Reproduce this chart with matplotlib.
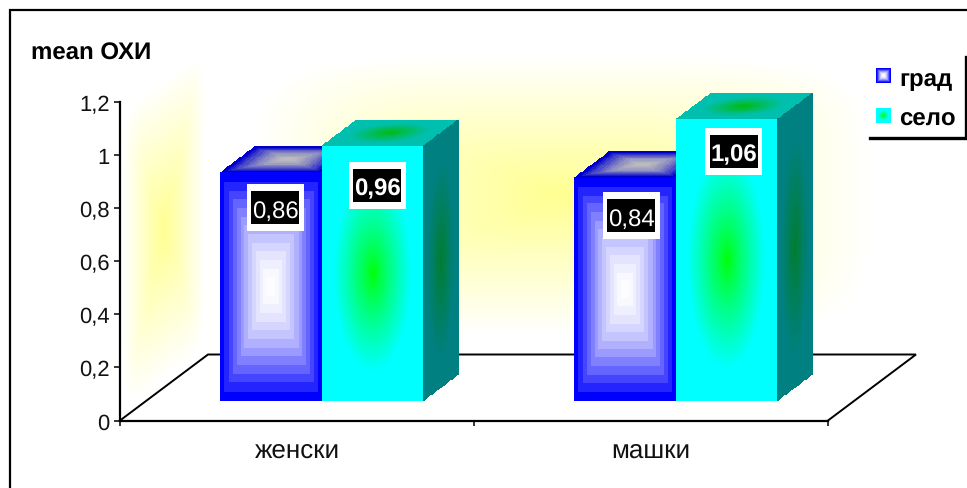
import numpy as np
import matplotlib
matplotlib.use("Agg")
import matplotlib.pyplot as plt
from matplotlib.patches import Rectangle

plt.rcParams['font.family'] = ['Liberation Sans', 'DejaVu Sans']
plt.rcParams['text.hinting'] = 'no_hinting'
plt.rcParams['text.hinting_factor'] = 1

categories = ['женски', 'машки']
series_names = ['град', 'село']
values = {
    'град': [0.86, 0.84],
    'село': [0.96, 1.06],
}
value_labels = {
    'град': ['0,86', '0,84'],
    'село': ['0,96', '1,06'],
}
y_ticks = [0, 0.2, 0.4, 0.6, 0.8, 1, 1.2]
y_tick_labels = ['0', '0,2', '0,4', '0,6', '0,8', '1', '1,2']

W, H = 967, 489
X0, X1, Y0, Y1 = 120, 828, 421.5, 103

# face colours, edge -> centre
BLUE_FRONT = ((0, 0, 255), (255, 255, 255))
BLUE_TOP = ((0, 0, 205), (190, 190, 190))
GREEN_FRONT = ((0, 255, 255), (0, 255, 0))
GREEN_TOP = ((0, 191, 175), (0, 185, 0))
GREEN_SIDE = ((0, 128, 128), (0, 125, 40))
WALL = ((255, 255, 255), (255, 255, 145))


def shade(nx, ny, colors, p=None, steps=None, reach=1.0, gamma=1.0):
    # gradient running from the edge of a face to its centre
    u = np.linspace(-1, 1, nx)
    v = np.linspace(-1, 1, ny)
    uu, vv = np.meshgrid(u, v)
    if p is None:
        r = np.maximum(np.abs(uu), np.abs(vv))
    else:
        r = (np.abs(uu) ** p + np.abs(vv) ** p) ** (1 / p)
    t = np.clip(r / reach, 0, 1)
    if steps:
        t = np.ceil(t * steps) / steps
    t = t ** gamma
    edge = np.array(colors[0]) / 255
    centre = np.array(colors[1]) / 255
    return centre + (edge - centre) * t[..., None]


def face(ax, p0, pu, pv, rgb, zorder):
    # parallelogram from corner p0 along vectors pu and pv
    ny, nx = rgb.shape[:2]
    a, b = np.meshgrid(np.linspace(0, 1, nx + 1), np.linspace(0, 1, ny + 1))
    xs = p0[0] + a * pu[0] + b * pv[0]
    ys = p0[1] + a * pu[1] + b * pv[1]
    ax.pcolormesh(xs, ys, rgb, shading='flat', zorder=zorder, clip_on=False)


fig = plt.figure(figsize=(W / 100, H / 100), dpi=100)
fig.patch.set_facecolor('white')
ax = fig.add_axes([X0 / W, 1 - Y0 / H, (X1 - X0) / W, (Y0 - Y1) / H])
ax.patch.set_visible(False)

ux = 2 / (X1 - X0)
uy = 1.2 / (Y0 - Y1)
# one unit of depth on screen
depth = (88 * ux, 66 * uy)
top_y = y_ticks[-1]
n_cat = len(categories)

# walls
face(ax, (0, 0), depth, (0, top_y), shade(60, 160, WALL, p=8, reach=0.95), 0)
face(ax, depth, (n_cat, 0), (0, top_y), shade(240, 140, WALL, p=5, reach=0.88), 0)

# floor outline
ax.plot([0, depth[0], n_cat + depth[0], n_cat], [0, depth[1], depth[1], 0],
        color='black', lw=1.4, clip_on=False, zorder=1, solid_joinstyle='miter')

bar_w = 101.5 * ux
d_front, d_back = 0.3, 0.7
styles = {
    'град': dict(front=BLUE_FRONT, top=BLUE_TOP, side=BLUE_TOP, p=None, steps=13, reach=1.0, gamma=1.9),
    'село': dict(front=GREEN_FRONT, top=GREEN_TOP, side=GREEN_SIDE, p=2, steps=None, reach=0.78, gamma=0.8),
}
label_dx = {'град': [3, 5], 'село': [3.5, 6]}
label_dy = {'град': [35.5, 38], 'село': [40, 32]}
label_weight = {'град': 'normal', 'село': 'bold'}

z = 2
for c in range(n_cat):
    for s, name in enumerate(series_names):
        st = styles[name]
        grad = dict(p=st['p'], reach=st['reach'], gamma=st['gamma'])
        v = values[name][c]
        x = c + 0.5 - bar_w + s * bar_w + d_front * depth[0] - 1.5 * ux
        y = d_front * depth[1]
        dd = ((d_back - d_front) * depth[0], (d_back - d_front) * depth[1])
        face(ax, (x, y + v), (bar_w, 0), dd, shade(60, 30, st['top'], steps=st['steps'], **grad), z)
        face(ax, (x + bar_w, y), dd, (0, v), shade(30, 120, st['side'], **grad), z)
        face(ax, (x, y), (bar_w, 0), (0, v), shade(100, 200, st['front'], steps=st['steps'], **grad), z + 1)
        z += 2

        # value label: white plate, black box, white text
        cx = x + bar_w / 2 + (label_dx[name][c] + 1) * ux
        cy = y + v - label_dy[name][c] * uy
        ax.add_patch(Rectangle((cx - 28.5 * ux, cy - 23.5 * uy), 57 * ux, 47 * uy,
                               fc='white', ec='none', zorder=50, clip_on=False))
        ax.add_patch(Rectangle((cx - 24 * ux, cy - 16.5 * uy), 48 * ux, 33 * uy,
                               fc='black', ec='none', zorder=51, clip_on=False))
        ax.text(cx, cy, value_labels[name][c], color='white', fontsize=17,
                fontweight=label_weight[name], ha='center', va='center_baseline', zorder=52)

ax.set_xlim(0, n_cat)
ax.set_ylim(0, top_y)
ax.set_yticks(y_ticks)
ax.set_yticklabels(y_tick_labels, fontsize=15.5, color='#111111')
ax.set_xticks(range(n_cat + 1))
ax.set_xticklabels([])
ax.set_xticks([c + 0.5 for c in range(n_cat)], minor=True)
ax.set_xticklabels(categories, minor=True, fontsize=18.5, color='#111111')
ax.tick_params(axis='y', length=4.5, width=1.1, pad=3)
ax.tick_params(axis='x', which='major', length=3.5, width=1.1)
ax.tick_params(axis='x', which='minor', length=0, pad=13)
for side in ['top', 'right']:
    ax.spines[side].set_visible(False)
for side in ['left', 'bottom']:
    ax.spines[side].set_linewidth(1.6)
    ax.spines[side].set_zorder(60)

# frame, title and legend sit on an overlay measured in pixels
ov = fig.add_axes([0, 0, 1, 1])
ov.set_xlim(0, W)
ov.set_ylim(H, 0)
ov.axis('off')
ov.plot([9.5, 9.5, W], [H, 10.5, 10.5], color='black', lw=1.6, solid_joinstyle='miter')
ov.text(31, 51, 'mean ОХИ', fontsize=17, fontweight='bold', va='center_baseline')

ov.add_patch(Rectangle((868, 58), 97, 80, fc='white', ec='none'))
ov.plot([870, 966, 966], [139, 139, 58], color='black', lw=2.4, solid_joinstyle='miter')
legend_y = [69, 109]
for name, ly in zip(series_names, legend_y):
    st = styles[name]
    face(ov, (876, ly), (15, 0), (0, 15),
         shade(15, 15, st['front'], st['p'], st['steps'], st['reach'], st['gamma']), 3)
    ov.text(899, ly + 8, name, fontsize=17.5, fontweight='bold', va='center_baseline')
ov.set_xlim(0, W)
ov.set_ylim(H, 0)

fig.savefig('out.png', dpi=100)
